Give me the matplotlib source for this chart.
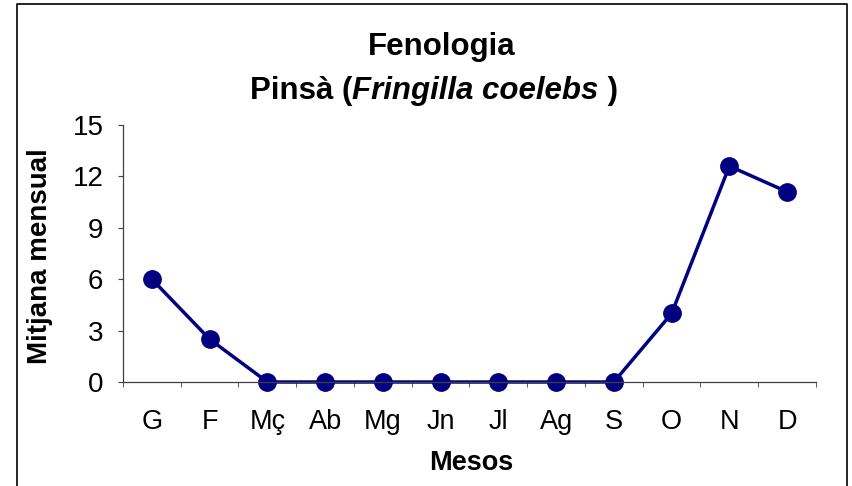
import matplotlib
matplotlib.use('Agg')
import matplotlib.pyplot as plt
from matplotlib.lines import Line2D
import numpy as np

plt.rcParams['font.family'] = ['Liberation Sans', 'DejaVu Sans']

# Data
months = ['G', 'F', 'Mç', 'Ab', 'Mg', 'Jn', 'Jl', 'Ag', 'S', 'O', 'N', 'D']
mitjana = [6.0, 2.5, 0, 0, 0, 0, 0, 0, 0, 4.0, 12.6, 11.1]
yticks = [0, 3, 6, 9, 12, 15]

W, H = 853, 486
fig = plt.figure(figsize=(W / 100, H / 100), dpi=100)
ax = fig.add_axes([123 / W, 1 - 382 / H, (816 - 123) / W, (382 - 125) / H])

x = np.arange(len(months))
ax.plot(x, mitjana, color='#000080', lw=2.5, marker='o', ms=12.5,
        markerfacecolor='#000080', markeredgecolor='#000080', clip_on=False)

ax.set_xlim(-0.5, len(months) - 0.5)
ax.set_ylim(0, 15)
ax.set_yticks(yticks)
ax.set_xticks(x)
ax.set_xticklabels(months, fontsize=19.5)
ax.set_xticks(np.arange(len(months) + 1) - 0.5, minor=True)
ax.tick_params(axis='x', which='major', length=0, pad=19.5)
ax.tick_params(axis='x', which='minor', length=3.6, direction='out', color='#404040')
ax.tick_params(axis='y', labelsize=20, length=3.6, direction='out', color='#404040', pad=10.5)
for s in ['top', 'right']:
    ax.spines[s].set_visible(False)
for s in ['left', 'bottom']:
    ax.spines[s].set_color('#404040')
    ax.spines[s].set_linewidth(0.9)

fig.text(471 / W, 1 - 463 / H, 'Mesos', ha='center', va='center',
         fontsize=19.5, fontweight='bold')
fig.text(40 / W, 1 - 256 / H, 'Mitjana mensual', ha='center', va='center',
         rotation=90, fontsize=20, fontweight='bold')

# Title
fig.text(442 / W, 1 - 47 / H, 'Fenologia', ha='center', va='center',
         fontsize=22.5, fontweight='bold')
parts = [('Pinsà (', 'normal'), ('Fringilla coelebs', 'italic'), (' )', 'normal')]
fig.canvas.draw()
r = fig.canvas.get_renderer()
texts = []
total = 0
for s, st in parts:
    t = fig.text(0, 1 - 91 / H, s, ha='left', va='center', fontsize=22.5,
                 fontweight='bold', style=st)
    w = t.get_window_extent(renderer=r).width
    texts.append((t, w))
    total += w
xpos = 434 - total / 2
for t, w in texts:
    t.set_x(xpos / W)
    xpos += w

# Frame around chart
fig.add_artist(Line2D([16.5 / W, 16.5 / W, 847 / W, 847 / W],
                      [0, 1 - 4 / H, 1 - 4 / H, 0], color='black', lw=1.2))

fig.savefig('out.png', dpi=100)
